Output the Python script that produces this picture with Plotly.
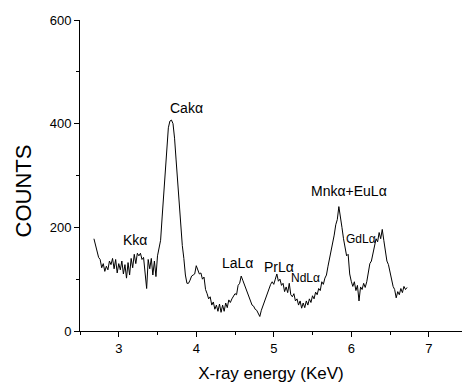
import plotly.graph_objects as go

counts = [
    178, 165, 150, 142, 138, 122, 130, 115, 125, 118,
    135, 128, 140, 120, 138, 112, 130, 118, 135, 110,
    128, 102, 132, 108, 140, 122, 148, 130, 150, 145,
    150, 138, 142, 110, 82, 138, 120, 140, 108, 135,
    105, 145, 162, 175, 220, 262, 300, 348, 392, 405,
    407, 400, 372, 330, 285, 245, 210, 165, 140, 108,
    92, 92, 98, 106, 108, 110, 126, 118, 110, 112,
    100, 104, 80, 72, 62, 66, 50, 56, 42, 50,
    38, 52, 36, 50, 38, 54, 45, 60, 55, 62,
    66, 72, 70, 88, 92, 106, 98, 90, 84, 76,
    66, 60, 50, 48, 42, 40, 32, 28, 40, 48,
    56, 68, 76, 84, 90, 95, 90, 100, 110, 96,
    100, 88, 92, 76, 85, 74, 92, 70, 66, 72,
    58, 62, 50, 58, 44, 54, 45, 58, 50, 62,
    55, 68, 62, 75, 70, 82, 78, 95, 90, 102,
    108, 125, 140, 150, 172, 185, 205, 215, 240, 215,
    200, 178, 160, 145, 148, 110, 96, 86, 95, 78,
    88, 58, 85, 80, 92, 84, 95, 115, 130, 135,
    150, 160, 178, 172, 190, 178, 196, 175, 150, 135,
    128, 115, 100, 86, 80, 64, 76, 70, 82, 74,
    86, 80, 84,
]
energy_start = 2.68
energy_step = 0.02
energy = [round(energy_start + energy_step * i, 2) for i in range(len(counts))]

peak_labels = ["Kkα", "Cakα", "LaLα", "PrLα", "NdLα", "Mnkα+EuLα", "GdLα"]
label_x = [3.205, 3.87, 4.533, 5.062, 5.41, 5.965, 6.12]
label_y = [175, 430, 132, 123, 103, 270, 177]
label_size = [14, 14, 14, 14, 12, 14, 12]

x_ticks = [3, 4, 5, 6, 7]
y_ticks = [0, 200, 400, 600]

FONT = "Liberation Sans, Arial, sans-serif"

fig = go.Figure()
fig.add_trace(go.Scatter(
    x=energy, y=counts, mode="lines",
    line=dict(color="black", width=1),
    showlegend=False, hoverinfo="skip",
))

for t, xv, yv, s in zip(peak_labels, label_x, label_y, label_size):
    fig.add_annotation(x=xv, y=yv, text=t, showarrow=False,
                       font=dict(family=FONT, size=s, color="black"),
                       xanchor="center", yanchor="middle")

fig.update_layout(
    width=462, height=386,
    margin=dict(l=80, r=0, t=20, b=55),
    paper_bgcolor="white", plot_bgcolor="white",
    font=dict(family=FONT, color="black"),
    xaxis=dict(
        range=[2.5, 7.429], tickvals=x_ticks, ticktext=[str(v) for v in x_ticks],
        showline=True, linecolor="black", linewidth=1,
        ticks="outside", ticklen=5, tickcolor="black", tickwidth=1,
        showgrid=False, zeroline=False,
        tickfont=dict(size=13, family=FONT),
        title=dict(text="X-ray energy (KeV)", font=dict(size=17, family=FONT), standoff=12),
        minor=dict(dtick=0.5, tick0=2.5, ticks="outside", ticklen=3, tickcolor="black", showgrid=False),
    ),
    yaxis=dict(
        range=[0, 600], tickvals=y_ticks, ticktext=[str(v) for v in y_ticks],
        showline=True, linecolor="black", linewidth=1,
        ticks="outside", ticklen=5, tickcolor="black", tickwidth=1,
        showgrid=False, zeroline=False,
        tickfont=dict(size=13, family=FONT),
        minor=dict(dtick=100, tick0=0, ticks="outside", ticklen=3, tickcolor="black", showgrid=False),
    ),
)
fig.add_annotation(xref="paper", yref="paper", x=-80/382, xanchor="left",
                   y=(331 - 191) / 311, yanchor="middle",
                   text="COUNTS", textangle=-90, showarrow=False,
                   font=dict(size=22, family=FONT, color="black"), xshift=8)

fig.write_html("out.html")
